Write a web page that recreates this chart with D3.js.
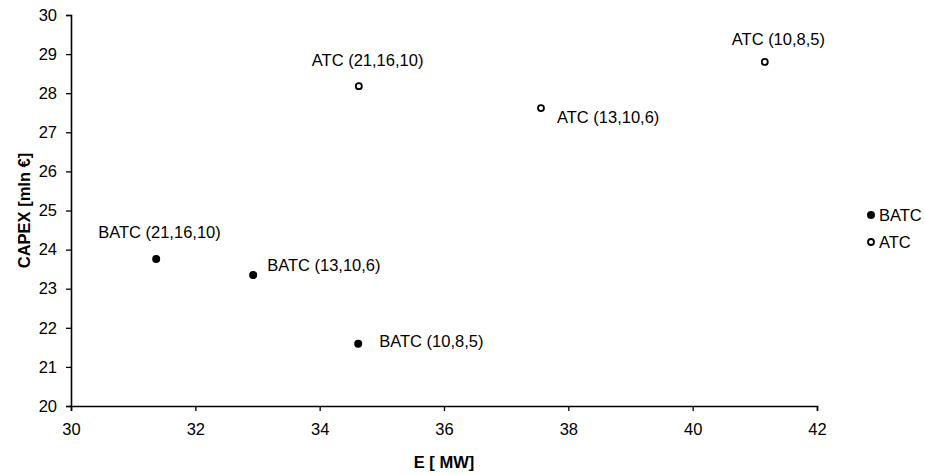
<!DOCTYPE html>
<html>
<head>
<meta charset="utf-8">
<script src="https://cdn.jsdelivr.net/npm/d3@7"></script>
<style>
  html, body { margin: 0; padding: 0; background: #fff; }
  text { font-family: "Liberation Sans", Arial, sans-serif; }
</style>
</head>
<body>
<svg id="chart" width="925" height="474"></svg>
<script>
// E [MW] vs CAPEX [mln €] for the BATC and ATC configurations
const batcLabels = ["BATC (21,16,10)", "BATC (13,10,6)", "BATC (10,8,5)"];
const batcE = [31.37, 32.93, 34.62];
const batcCapex = [23.76, 23.35, 21.59];

const atcLabels = ["ATC (21,16,10)", "ATC (13,10,6)", "ATC (10,8,5)"];
const atcE = [34.63, 37.56, 41.16];
const atcCapex = [28.18, 27.62, 28.80];

const xTicks = [30, 32, 34, 36, 38, 40, 42];
const yTicks = [20, 21, 22, 23, 24, 25, 26, 27, 28, 29, 30];

const FONT = "16.5px";

const svg = d3.select("#chart");
const plotLeft = 71, plotRight = 817, plotTop = 15, plotBottom = 406;

const x = d3.scaleLinear().domain([30, 42]).range([plotLeft, plotRight]);
const y = d3.scaleLinear().domain([20, 30]).range([plotBottom, plotTop]);

// Axes
const xAxis = svg.append("g")
  .attr("transform", `translate(0,${plotBottom})`)
  .call(d3.axisBottom(x).tickValues(xTicks).tickSize(5).tickPadding(12).tickFormat(d3.format("d")));
const yAxis = svg.append("g")
  .attr("transform", `translate(${plotLeft},0)`)
  .call(d3.axisLeft(y).tickValues(yTicks).tickSize(5).tickPadding(9).tickFormat(d3.format("d")));

[xAxis, yAxis].forEach(g => {
  g.select(".domain").attr("stroke", "#000").attr("stroke-width", 1.6);
  g.selectAll(".tick line").attr("stroke", "#000").attr("stroke-width", 1.3);
  g.selectAll(".tick text").attr("fill", "#000").style("font-size", FONT)
    .style("font-family", "'Liberation Sans', Arial, sans-serif");
});

// Axis titles
svg.append("text")
  .attr("x", (plotLeft + plotRight) / 2).attr("y", 468)
  .attr("text-anchor", "middle")
  .style("font-size", FONT).style("font-weight", "bold")
  .text("E [ MW]");
svg.append("text")
  .attr("transform", `translate(30,${(plotTop + plotBottom) / 2}) rotate(-90)`)
  .attr("text-anchor", "middle")
  .style("font-size", FONT).style("font-weight", "bold")
  .text("CAPEX [mln €]");

// Data points
const batc = batcE.map((e, i) => ({ e, c: batcCapex[i], label: batcLabels[i] }));
const atc = atcE.map((e, i) => ({ e, c: atcCapex[i], label: atcLabels[i] }));

svg.selectAll("circle.batc").data(batc).enter().append("circle")
  .attr("class", "batc")
  .attr("cx", d => x(d.e)).attr("cy", d => y(d.c)).attr("r", 4)
  .attr("fill", "#000");

svg.selectAll("circle.atc").data(atc).enter().append("circle")
  .attr("class", "atc")
  .attr("cx", d => x(d.e)).attr("cy", d => y(d.c)).attr("r", 3)
  .attr("fill", "#fff").attr("stroke", "#000").attr("stroke-width", 1.8);

// Point labels: offsets relative to each marker
const batcOffsets = [[-58, -21], [14, -4], [21, 3]];
const atcOffsets = [[-47, -20], [16, 15], [-33, -17]];

svg.selectAll("text.batc-label").data(batc).enter().append("text")
  .attr("class", "batc-label")
  .attr("x", (d, i) => x(d.e) + batcOffsets[i][0])
  .attr("y", (d, i) => y(d.c) + batcOffsets[i][1])
  .style("font-size", FONT)
  .text(d => d.label);

svg.selectAll("text.atc-label").data(atc).enter().append("text")
  .attr("class", "atc-label")
  .attr("x", (d, i) => x(d.e) + atcOffsets[i][0])
  .attr("y", (d, i) => y(d.c) + atcOffsets[i][1])
  .style("font-size", FONT)
  .text(d => d.label);

// Legend
const legend = svg.append("g").attr("transform", "translate(871,0)");
legend.append("circle").attr("cx", 0).attr("cy", 215).attr("r", 4).attr("fill", "#000");
legend.append("text").attr("x", 8).attr("y", 221).style("font-size", FONT).text("BATC");
legend.append("circle").attr("cx", 0).attr("cy", 242).attr("r", 3)
  .attr("fill", "#fff").attr("stroke", "#000").attr("stroke-width", 1.8);
legend.append("text").attr("x", 8).attr("y", 248).style("font-size", FONT).text("ATC");
</script>
</body>
</html>
